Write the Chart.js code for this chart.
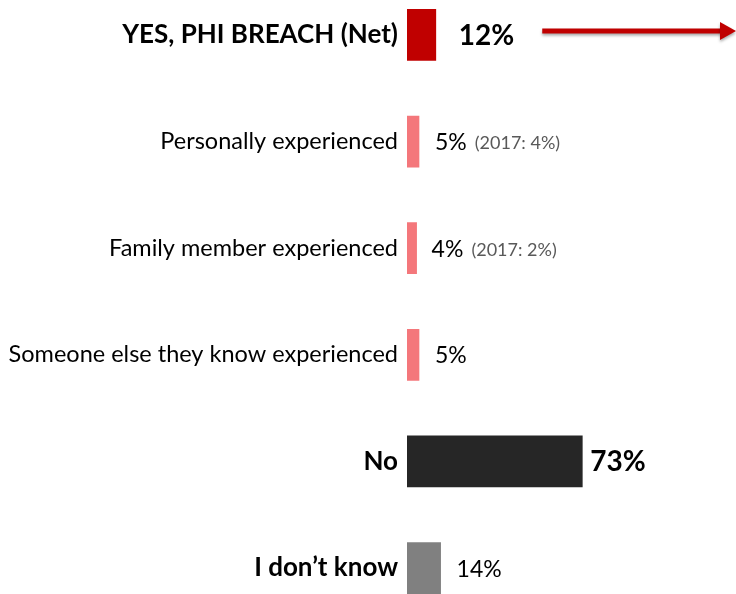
<!DOCTYPE html>
<html>
<head>
<meta charset="utf-8">
<script src="https://cdn.jsdelivr.net/npm/chart.js@4/dist/chart.umd.min.js"></script>
<style>
  html, body { margin: 0; padding: 0; background: #fff; overflow: hidden; }
  body { width: 736px; height: 594px; position: relative; }
  #wrap { position: absolute; left: 0; top: -43px; width: 736px; height: 689px; }
</style>
</head>
<body>
<div id="wrap"><canvas id="chart" width="736" height="689"></canvas></div>
<script>
const categories = [
    'YES, PHI BREACH (Net)',
    'Personally experienced',
    'Family member experienced',
    'Someone else they know experienced',
    'No',
    'I don\u2019t know',
];
const values = [12, 5, 4, 5, 73, 14];
const notes = ['', '(2017: 4%)', '(2017: 2%)', '', '', ''];
const barColors = ['#C00000', '#F4777B', '#F4777B', '#F4777B', '#262626', '#808080'];
const boldRows = [true, false, false, false, true, true];
const boldValues = [true, false, false, false, true, false];

const FONT = 'Lato, "Open Sans", sans-serif';
// gap between bar end and its value label
const labelGap = [23, 16, 15, 16, 8, 16];

// value labels, the 2017 notes and the red arrow next to the net row
const labelPlugin = {
    id: 'valueLabels',
    afterDatasetsDraw(chart) {
        const ctx = chart.ctx;
        const meta = chart.getDatasetMeta(0);
        meta.data.forEach((bar, i) => {
            ctx.save();
            ctx.textBaseline = 'middle';
            ctx.textAlign = 'left';
            const x = bar.x + labelGap[i];
            const y = bar.y + 1;
            ctx.font = (boldValues[i] ? 'bold 28px ' : '23px ') + FONT;
            ctx.fillStyle = '#000';
            const txt = values[i] + '%';
            ctx.fillText(txt, x, y);
            const w = ctx.measureText(txt).width;
            if (notes[i]) {
                ctx.font = '18px ' + FONT;
                ctx.fillStyle = '#595959';
                ctx.fillText(notes[i], x + w + 8, y + 1);
            }
            if (i === 0) {
                const ax0 = x + w + 28;
                const ax1 = chart.width;
                const ay = bar.y - 4;
                ctx.shadowColor = 'rgba(0,0,0,0.35)';
                ctx.shadowBlur = 3;
                ctx.shadowOffsetY = 2;
                ctx.strokeStyle = '#C00000';
                ctx.fillStyle = '#C00000';
                ctx.lineWidth = 5;
                ctx.beginPath();
                ctx.moveTo(ax0, ay);
                ctx.lineTo(ax1 - 14, ay);
                ctx.stroke();
                ctx.beginPath();
                ctx.moveTo(ax1 - 16, ay - 9);
                ctx.lineTo(ax1, ay);
                ctx.lineTo(ax1 - 16, ay + 9);
                ctx.closePath();
                ctx.fill();
            }
            ctx.restore();
        });
    }
};

new Chart(document.getElementById('chart'), {
    type: 'bar',
    data: {
        labels: categories,
        datasets: [{
            data: values,
            backgroundColor: barColors,
            barThickness: 51,
        }]
    },
    options: {
        indexAxis: 'y',
        responsive: false,
        animation: false,
        layout: { padding: 0 },
        plugins: {
            legend: { display: false },
            tooltip: { enabled: false },
        },
        scales: {
            x: {
                display: false,
                min: 0,
                max: 137,
            },
            y: {
                offset: true,
                border: { display: false },
                grid: { display: false, drawTicks: false },
                afterFit(scale) { scale.width = 407; },
                ticks: {
                    padding: 9,
                    color: '#000',
                    font: (c) => boldRows[c.index]
                        ? { family: FONT, size: 26, weight: 'bold' }
                        : { family: FONT, size: 23.5 },
                },
            },
        },
    },
    plugins: [labelPlugin],
});
</script>
</body>
</html>
